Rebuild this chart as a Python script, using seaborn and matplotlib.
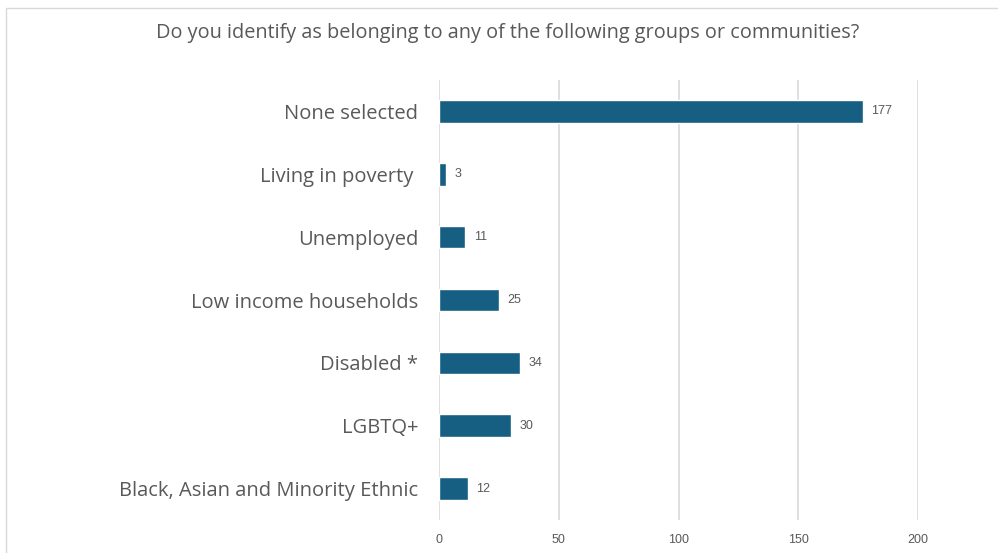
import matplotlib
matplotlib.use("Agg")
import matplotlib.pyplot as plt
import seaborn as sns
import pandas as pd
from matplotlib.patches import Rectangle

categories = [
    "None selected",
    "Living in poverty ",
    "Unemployed",
    "Low income households",
    "Disabled *",
    "LGBTQ+",
    "Black, Asian and Minority Ethnic",
]
counts = [177, 3, 11, 25, 34, 30, 12]
x_ticks = [0, 50, 100, 150, 200]

title = "Do you identify as belonging to any of the following groups or communities?"
bar_color = "#165f82"
text_color = "#595959"
grid_color = "#d9d9d9"

sns.set_theme(style="white")
plt.rcParams["font.family"] = ["Open Sans", "DejaVu Sans"]

df = pd.DataFrame({"group": categories, "count": counts})

W, H = 998, 553
fig = plt.figure(figsize=(W / 100, H / 100), dpi=100)
ax = fig.add_axes([439 / W, 1 - 520 / H, (918 - 439) / W, (520 - 80) / H])

sns.barplot(data=df, x="count", y="group", order=categories, color=bar_color,
            width=0.36, saturation=1, ax=ax, zorder=3)

ax.set_xlim(0, 200)
ax.set_ylim(len(categories) - 0.5, -0.5)
ax.set_xticks(x_ticks)
ax.set_xticklabels([str(t) for t in x_ticks], fontsize=9, color=text_color,
                   family=["Liberation Sans", "DejaVu Sans"])
ax.tick_params(axis="x", length=0, pad=10)
ax.tick_params(axis="y", length=0, pad=15, labelsize=14.5, labelcolor=text_color)
ax.set_xlabel("")
ax.set_ylabel("")
for s in ax.spines.values():
    s.set_visible(False)
ax.xaxis.grid(True, color=grid_color, linewidth=1.2, zorder=0)
ax.yaxis.grid(False)
ax.set_axisbelow(True)

for i, v in enumerate(counts):
    ax.text(v + 3.5, i, str(v), va="center", ha="left", fontsize=9,
            color=text_color, family=["Liberation Sans", "DejaVu Sans"])

fig.text(0.509, 1 - 33 / H, title, ha="center", va="center", fontsize=14.3,
         color=text_color)

# chart frame
fig.patches.append(Rectangle((6 / W, -0.1), 1.2, 1 - 8 / H + 0.1,
                             transform=fig.transFigure, fill=False,
                             edgecolor="#d9d9d9", linewidth=1.0))

fig.savefig("out.png", dpi=100, facecolor="white")
